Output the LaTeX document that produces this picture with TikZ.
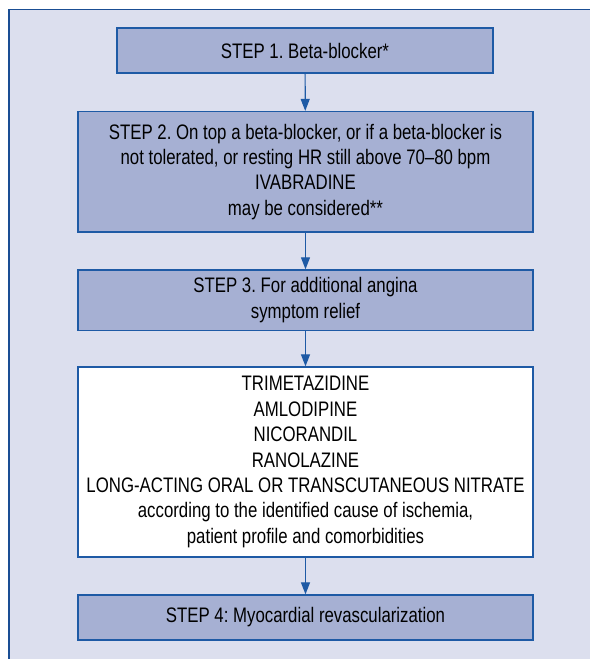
\documentclass[tikz,border=0pt]{standalone}
\usepackage{fontspec}
\setmainfont{Liberation Sans}[FakeStretch=0.8]
\usetikzlibrary{arrows.meta}
\definecolor{panel}{RGB}{220,223,238}
\definecolor{stepfill}{RGB}{166,176,211}
\definecolor{edge}{RGB}{30,90,165}
\definecolor{frame}{RGB}{26,78,148}
\frenchspacing

\begin{document}
\begin{tikzpicture}
      [x = 1pt, y = -1pt,
      stepbox/.style= {
         draw = edge,
         fill = stepfill,
         line width = 1.3pt,
         minimum width = 455pt,
         inner sep = 0pt,
         align = center,
         font = \fontsize{21}{25.4}\selectfont
      },
      drugbox/.style= {
         stepbox,
         fill = white
      },
      link/.style= {
         draw = edge,
         line width = 1.2pt,
         -{Triangle[length = 12pt, width = 9pt]}
      }]

      \useasboundingbox (0, 0) rectangle (590, 659);
      \fill[panel] (9, 9.5) rectangle (590, 659);
      \draw[frame, line width = 1.5pt] (9, 659) -- (9, 9.5) -- (590, 9.5);

      \node[stepbox, minimum width = 376pt, minimum height = 45pt] (s1) at (305, 50.5)
         {STEP 1. Beta-blocker*};
      \node[stepbox, minimum height = 120.5pt] (s2) at (305.5, 171.8)
         {STEP 2. On top a beta-blocker, or if a beta-blocker is\\
          not tolerated, or resting HR still above 70--80 bpm\\
          IVABRADINE\\
          may be considered**};
      \node[stepbox, minimum height = 60.5pt] (s3) at (305.5, 300.2)
         {STEP 3. For additional angina\\ symptom relief};
      \node[drugbox, minimum height = 190pt] (drugs) at (305.5, 462)
         {TRIMETAZIDINE\\
          AMLODIPINE\\
          NICORANDIL\\
          RANOLAZINE\\
          LONG-ACTING ORAL OR TRANSCUTANEOUS NITRATE\\
          according to the identified cause of ischemia,\\
          patient profile and comorbidities};
      \node[stepbox, minimum height = 45pt] (s4) at (305.5, 617.5)
         {STEP 4: Myocardial revascularization};

      \draw[link] (s1) -- (s2);
      \draw[link] (s2) -- (s3);
      \draw[link] (s3) -- (drugs);
      \draw[link] (drugs) -- (s4);

   \end{tikzpicture}
\end{document}
